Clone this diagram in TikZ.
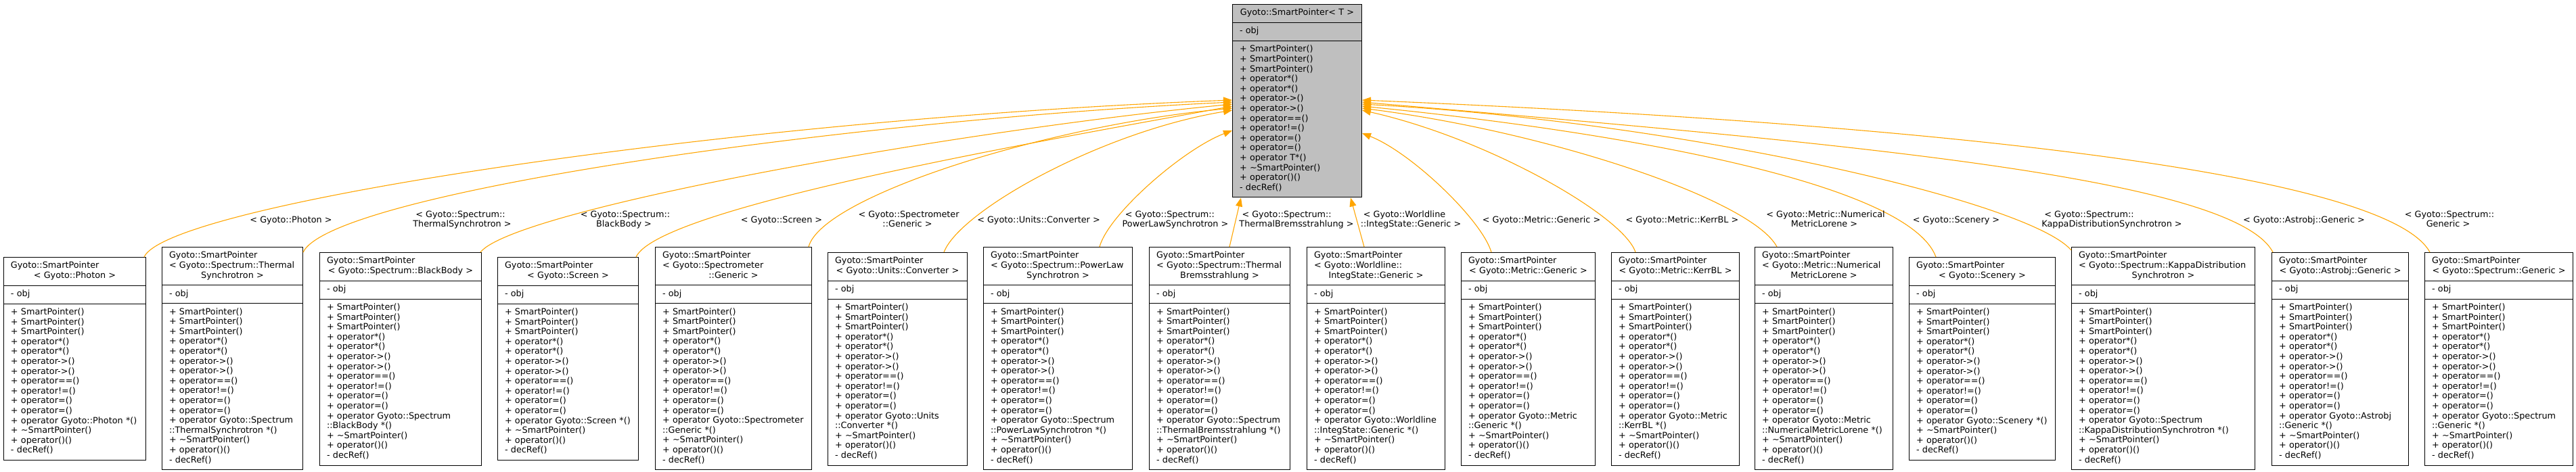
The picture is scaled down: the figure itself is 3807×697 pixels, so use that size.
\documentclass[tikz,border=0pt]{standalone}
\usepackage{fontspec}
\setmainfont{DejaVu Sans}
\usetikzlibrary{shapes.multipart,arrows.meta}

\definecolor{tmplorange}{HTML}{FFA500}
\definecolor{rootgrey}{HTML}{BFBFBF}

\newcommand{\spfont}{\fontsize{12.8pt}{14.6pt}\selectfont}
\newcommand{\cellrows}[1]{\begin{tabular}{@{}l@{}}#1\end{tabular}}
\newcommand{\lastline}[1]{\hbox to\linewidth{\hss#1\hss}}
\newcommand{\edgetext}[2]{\begin{tabular}{@{}l@{}}\ #1\\\multicolumn{1}{@{}c@{}}{#2}\end{tabular}}
\newcommand{\spmembers}[1]{\cellrows{+ SmartPointer()\\+ SmartPointer()\\+ SmartPointer()\\%
  + operator*()\\+ operator*()\\+ operator->()\\+ operator->()\\+ operator==()\\%
  + operator!=()\\+ operator=()\\+ operator=()\\+ operator #1\\%
  + \textasciitilde SmartPointer()\\+ operator()()\\- decRef()}}

\tikzset{
  spclass/.style={rectangle split, rectangle split parts=3, draw=black, fill=white,
    line width=1pt, anchor=north west, inner xsep=10.5pt, inner ysep=5.7pt,
    align=left, font=\spfont},
  tmpl/.style={draw=tmplorange, line width=1.1pt, -{Triangle[length=13pt,width=10pt]}},
  tlabel/.style={inner sep=0pt, font=\spfont}
}

\begin{document}
\begin{tikzpicture}[x=1pt,y=-1pt]
        \useasboundingbox (0,0) rectangle (3807,697);

        \node[spclass, fill=rootgrey, text width=170pt] (sp) at (1821,6)
          {\cellrows{\lastline{Gyoto::SmartPointer< T >}}%
           \nodepart{two}\cellrows{- obj}%
           \nodepart{three}\spmembers{T*()}};

        \node[spclass, text width=189pt] (photon) at (5,380)
          {\cellrows{Gyoto::SmartPointer\\\lastline{< Gyoto::Photon >}}%
           \nodepart{two}\cellrows{- obj}%
           \nodepart{three}\spmembers{Gyoto::Photon *()}};
        \node[spclass, text width=187pt] (thsync) at (239,365)
          {\cellrows{Gyoto::SmartPointer\\< Gyoto::Spectrum::Thermal\\\lastline{Synchrotron >}}%
           \nodepart{two}\cellrows{- obj}%
           \nodepart{three}\spmembers{Gyoto::Spectrum\\::ThermalSynchrotron *()}};
        \node[spclass, text width=218pt] (blackbody) at (472,373)
          {\cellrows{Gyoto::SmartPointer\\\lastline{< Gyoto::Spectrum::BlackBody >}}%
           \nodepart{two}\cellrows{- obj}%
           \nodepart{three}\spmembers{Gyoto::Spectrum\\::BlackBody *()}};
        \node[spclass, text width=187pt] (screen) at (735,380)
          {\cellrows{Gyoto::SmartPointer\\\lastline{< Gyoto::Screen >}}%
           \nodepart{two}\cellrows{- obj}%
           \nodepart{three}\spmembers{Gyoto::Screen *()}};
        \node[spclass, text width=210pt] (spectro) at (968,365)
          {\cellrows{Gyoto::SmartPointer\\< Gyoto::Spectrometer\\\lastline{::Generic >}}%
           \nodepart{two}\cellrows{- obj}%
           \nodepart{three}\spmembers{Gyoto::Spectrometer\\::Generic *()}};
        \node[spclass, text width=185pt] (units) at (1223,373)
          {\cellrows{Gyoto::SmartPointer\\\lastline{< Gyoto::Units::Converter >}}%
           \nodepart{two}\cellrows{- obj}%
           \nodepart{three}\spmembers{Gyoto::Units\\::Converter *()}};
        \node[spclass, text width=199pt] (plsync) at (1453,365)
          {\cellrows{Gyoto::SmartPointer\\< Gyoto::Spectrum::PowerLaw\\\lastline{Synchrotron >}}%
           \nodepart{two}\cellrows{- obj}%
           \nodepart{three}\spmembers{Gyoto::Spectrum\\::PowerLawSynchrotron *()}};
        \node[spclass, text width=187pt] (thbrems) at (1698,365)
          {\cellrows{Gyoto::SmartPointer\\< Gyoto::Spectrum::Thermal\\\lastline{Bremsstrahlung >}}%
           \nodepart{two}\cellrows{- obj}%
           \nodepart{three}\spmembers{Gyoto::Spectrum\\::ThermalBremsstrahlung *()}};
        \node[spclass, text width=183pt] (integ) at (1931,365)
          {\cellrows{Gyoto::SmartPointer\\< Gyoto::Worldline::\\\lastline{IntegState::Generic >}}%
           \nodepart{two}\cellrows{- obj}%
           \nodepart{three}\spmembers{Gyoto::Worldline\\::IntegState::Generic *()}};
        \node[spclass, text width=177pt] (metric) at (2159,373)
          {\cellrows{Gyoto::SmartPointer\\\lastline{< Gyoto::Metric::Generic >}}%
           \nodepart{two}\cellrows{- obj}%
           \nodepart{three}\spmembers{Gyoto::Metric\\::Generic *()}};
        \node[spclass, text width=168pt] (kerrbl) at (2381,373)
          {\cellrows{Gyoto::SmartPointer\\\lastline{< Gyoto::Metric::KerrBL >}}%
           \nodepart{two}\cellrows{- obj}%
           \nodepart{three}\spmembers{Gyoto::Metric\\::KerrBL *()}};
        \node[spclass, text width=183pt] (lorene) at (2593,365)
          {\cellrows{Gyoto::SmartPointer\\< Gyoto::Metric::Numerical\\\lastline{MetricLorene >}}%
           \nodepart{two}\cellrows{- obj}%
           \nodepart{three}\spmembers{Gyoto::Metric\\::NumericalMetricLorene *()}};
        \node[spclass, text width=195pt] (scenery) at (2821,380)
          {\cellrows{Gyoto::SmartPointer\\\lastline{< Gyoto::Scenery >}}%
           \nodepart{two}\cellrows{- obj}%
           \nodepart{three}\spmembers{Gyoto::Scenery *()}};
        \node[spclass, text width=250pt] (kappa) at (3061,365)
          {\cellrows{Gyoto::SmartPointer\\< Gyoto::Spectrum::KappaDistribution\\\lastline{Synchrotron >}}%
           \nodepart{two}\cellrows{- obj}%
           \nodepart{three}\spmembers{Gyoto::Spectrum\\::KappaDistributionSynchrotron *()}};
        \node[spclass, text width=181pt] (astrobj) at (3357,373)
          {\cellrows{Gyoto::SmartPointer\\\lastline{< Gyoto::Astrobj::Generic >}}%
           \nodepart{two}\cellrows{- obj}%
           \nodepart{three}\spmembers{Gyoto::Astrobj\\::Generic *()}};
        \node[spclass, text width=198pt] (spgeneric) at (3583,373)
          {\cellrows{Gyoto::SmartPointer\\\lastline{< Gyoto::Spectrum::Generic >}}%
           \nodepart{two}\cellrows{- obj}%
           \nodepart{three}\spmembers{Gyoto::Spectrum\\::Generic *()}};

        \draw[tmpl] ([xshift=-3pt]photon.north east) .. controls (250,300) and (1100,175) .. ([yshift=-142pt]sp.north west);
        \draw[tmpl] ([yshift=-8pt]thsync.north east) .. controls (490,285) and (1250,178) .. ([yshift=-145pt]sp.north west);
        \draw[tmpl] ([xshift=-2pt]blackbody.north east) .. controls (760,310) and (1400,195) .. ([yshift=-148pt]sp.north west);
        \draw[tmpl] ([xshift=-4pt]screen.north east) .. controls (975,305) and (1560,205) .. ([yshift=-151pt]sp.north west);
        \draw[tmpl] ([xshift=-5pt]spectro.north east) .. controls (1215,290) and (1550,185) .. ([yshift=-154pt]sp.north west);
        \draw[tmpl] ([xshift=-35pt]units.north east) .. controls (1418,312) and (1627,195) .. ([yshift=-157pt]sp.north west);
        \draw[tmpl] ([xshift=-49pt]plsync.north east) .. controls (1638,317) and (1748,221) .. ([yshift=-187pt]sp.north west);
        \draw[tmpl] ([xshift=-90pt]thbrems.north east) -- ([xshift=13pt]sp.south west);
        \draw[tmpl] ([xshift=85pt]integ.north west) -- ([xshift=-17pt]sp.south east);
        \draw[tmpl] ([xshift=45pt]metric.north west) .. controls (2190,325) and (2085,225) .. ([yshift=-191pt]sp.north east);
        \draw[tmpl] ([xshift=36pt]kerrbl.north west) .. controls (2400,320) and (2200,205) .. ([yshift=-157pt]sp.north east);
        \draw[tmpl] ([xshift=33pt]lorene.north west) .. controls (2589,295) and (2288,195) .. ([yshift=-154pt]sp.north east);
        \draw[tmpl] ([xshift=40pt]scenery.north west) .. controls (2820,270) and (2394,195) .. ([yshift=-151pt]sp.north east);
        \draw[tmpl] ([yshift=-5pt]kappa.north west) .. controls (2998,297) and (2484,180) .. ([yshift=-148pt]sp.north east);
        \draw[tmpl] ([xshift=2pt]astrobj.north west) .. controls (3300,260) and (2700,210) .. ([yshift=-145pt]sp.north east);
        \draw[tmpl] ([xshift=8pt]spgeneric.north west) .. controls (3530,260) and (2900,185) .. ([yshift=-142pt]sp.north east);

        \node[tlabel] (lphoton) at (430,326) {< Gyoto::Photon >};
        \node[tlabel] (lthsync) at (683,325.5) {\edgetext{< Gyoto::Spectrum::}{ThermalSynchrotron >}};
        \node[tlabel] (lblackbody) at (922,325.5) {\edgetext{< Gyoto::Spectrum::}{BlackBody >}};
        \node[tlabel] (lscreen) at (1155,326) {< Gyoto::Screen >};
        \node[tlabel] (lspectro) at (1341,325.5) {\edgetext{< Gyoto::Spectrometer}{::Generic >}};
        \node[tlabel] (lunits) at (1535,326) {< Gyoto::Units::Converter >};
        \node[tlabel] (lplsync) at (1737,325.5) {\edgetext{< Gyoto::Spectrum::}{PowerLawSynchrotron >}};
        \node[tlabel] (lthbrems) at (1916,325.5) {\edgetext{< Gyoto::Spectrum::}{ThermalBremsstrahlung >}};
        \node[tlabel] (linteg) at (2085,325.5) {\edgetext{< Gyoto::Worldline}{::IntegState::Generic >}};
        \node[tlabel] (lmetric) at (2278,326) {< Gyoto::Metric::Generic >};
        \node[tlabel] (lkerrbl) at (2486,326) {< Gyoto::Metric::KerrBL >};
        \node[tlabel] (llorene) at (2696,325.5) {\edgetext{< Gyoto::Metric::Numerical}{MetricLorene >}};
        \node[tlabel] (lscenery) at (2891,326) {< Gyoto::Scenery >};
        \node[tlabel] (lkappa) at (3121,325.5) {\edgetext{< Gyoto::Spectrum::}{KappaDistributionSynchrotron >}};
        \node[tlabel] (lastrobj) at (3405,326) {< Gyoto::Astrobj::Generic >};
        \node[tlabel] (lspgeneric) at (3618,325.5) {\edgetext{< Gyoto::Spectrum::}{Generic >}};
\end{tikzpicture}
\end{document}
